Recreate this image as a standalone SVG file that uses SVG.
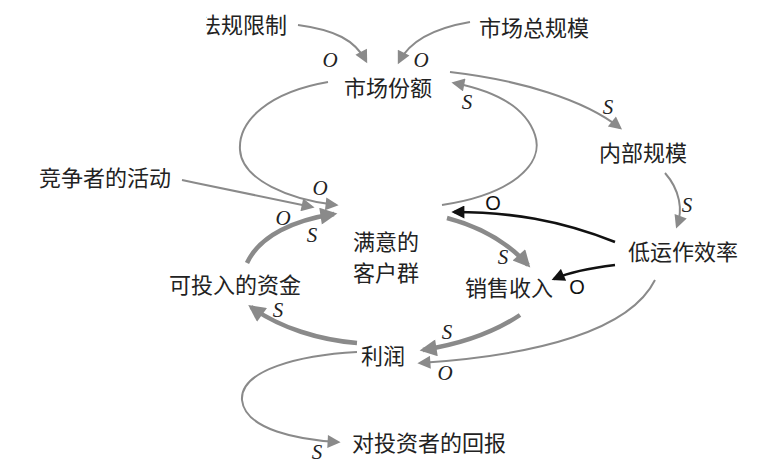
<svg xmlns="http://www.w3.org/2000/svg" width="765" height="467" viewBox="0 0 765 467">
<style>
.n{font-family:"Noto Sans CJK SC","Noto Sans",sans-serif;font-size:22px;fill:#222;text-anchor:middle}
.l{font-family:"Liberation Serif",serif;font-style:italic;font-size:21px;fill:#222;text-anchor:middle}
.b{font-family:"Liberation Sans",sans-serif;font-size:20px;fill:#111;text-anchor:middle}
.g{fill:none;stroke:#8a8a8a;stroke-width:2}
.t{fill:none;stroke:#8a8a8a;stroke-width:4.5}
.k{fill:none;stroke:#111;stroke-width:2.6}
</style>
<defs>
<marker id="ag" viewBox="0 0 10 10" refX="8" refY="5" markerWidth="15" markerHeight="13" markerUnits="userSpaceOnUse" orient="auto"><path d="M0,0 L10,5 L0,10 z" fill="#8a8a8a"/></marker>
<marker id="at" viewBox="0 0 10 10" refX="8" refY="5" markerWidth="19" markerHeight="17" markerUnits="userSpaceOnUse" orient="auto"><path d="M0,0 L10,5 L0,10 z" fill="#8a8a8a"/></marker>
<marker id="ak" viewBox="0 0 10 10" refX="8" refY="5" markerWidth="16" markerHeight="13" markerUnits="userSpaceOnUse" orient="auto"><path d="M0,0 L10,5 L0,10 z" fill="#111"/></marker>
<clipPath id="cl"><rect x="206" y="0" width="120" height="50"/></clipPath>
</defs>
<rect width="765" height="467" fill="#fff"/>
<g id="connectors">
<path class="g" marker-end="url(#ag)" d="M298,25 C335,30 355,40 366,61"/>
<path class="g" marker-end="url(#ag)" d="M470,22 C435,28 410,40 399,62"/>
<path class="g" marker-end="url(#ag)" d="M328,82 C270,92 238,120 240,150 C242,180 290,200 336,205"/>
<path class="g" marker-end="url(#ag)" d="M182,180 C230,190 280,200 312,207"/>
<path class="t" marker-end="url(#at)" d="M247,263 C260,235 295,220 334,214"/>
<path class="g" marker-end="url(#ag)" d="M442,205 C510,195 545,165 535,135 C525,105 490,90 454,83"/>
<path class="g" marker-end="url(#ag)" d="M450,72 C520,80 585,100 620,128"/>
<path class="g" marker-end="url(#ag)" d="M665,173 C680,190 683,210 677,226"/>
<path class="k" marker-end="url(#ak)" d="M615,242 C560,220 510,212 454,212"/>
<path class="k" marker-end="url(#ak)" d="M615,265 C590,268 570,272 554,279"/>
<path class="t" marker-end="url(#at)" d="M447,218 C485,228 510,245 528,265"/>
<path class="g" marker-end="url(#ag)" d="M655,280 C630,330 540,355 420,363"/>
<path class="t" marker-end="url(#at)" d="M520,315 C490,335 455,345 423,350"/>
<path class="t" marker-end="url(#at)" d="M357,343 C320,340 280,328 251,307"/>
<path class="g" marker-end="url(#ag)" d="M357,352 C300,355 240,370 242,400 C245,430 300,440 338,442"/>
</g>
<g id="n-fagui"><text class="n" clip-path="url(#cl)" x="287" y="33" style="text-anchor:end">法规限制</text></g>
<g id="n-zongguimo"><text class="n" x="534" y="36">市场总规模</text></g>
<g id="n-fene"><text class="n" x="388" y="96">市场份额</text></g>
<g id="n-neibu"><text class="n" x="643" y="161">内部规模</text></g>
<g id="n-jingzheng"><text class="n" x="105" y="186">竞争者的活动</text></g>
<g id="n-manyi"><text class="n" x="386" y="250">满意的</text><text class="n" x="386" y="281">客户群</text></g>
<g id="n-di"><text class="n" x="683" y="260">低运作效率</text></g>
<g id="n-ketou"><text class="n" x="235" y="293">可投入的资金</text></g>
<g id="n-xiaoshou"><text class="n" x="509" y="296">销售收入</text></g>
<g id="n-lirun"><text class="n" x="383" y="364">利润</text></g>
<g id="n-huibao"><text class="n" x="429" y="451">对投资者的回报</text></g>
<g id="labels">
<text class="l" x="330" y="67">O</text>
<text class="l" x="421" y="67">O</text>
<text class="l" x="467" y="109">S</text>
<text class="l" x="608" y="114">S</text>
<text class="l" x="320" y="195">O</text>
<text class="l" x="283" y="225">O</text>
<text class="l" x="312" y="242">S</text>
<text class="l" x="687" y="212">S</text>
<text class="l" x="503" y="264">S</text>
<text class="l" x="278" y="317">S</text>
<text class="l" x="447" y="339">S</text>
<text class="l" x="445" y="380">O</text>
<text class="l" x="317" y="459">S</text>
<text class="b" x="493" y="210">O</text>
<text class="b" x="577" y="294">O</text>
</g>
</svg>
